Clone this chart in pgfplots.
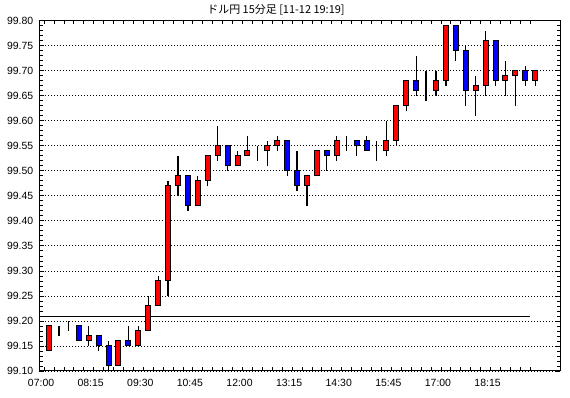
\documentclass[border=0pt]{standalone}
\usepackage{fontspec}
\setmainfont{Liberation Sans}
\newfontfamily\jp{Noto Sans CJK JP}
\usepackage{pgfplots}
\usepackage{pgfplotstable}
\pgfplotsset{compat=1.18}
\pgfplotstableread{
i o h l c
0 99.14 99.19 99.14 99.19
1 99.19 99.19 99.17 99.19
2 99.19 99.20 99.18 99.19
3 99.19 99.19 99.16 99.16
4 99.16 99.19 99.15 99.17
5 99.17 99.17 99.14 99.15
6 99.15 99.16 99.10 99.11
7 99.11 99.16 99.11 99.16
8 99.16 99.19 99.15 99.15
9 99.15 99.19 99.15 99.18
10 99.18 99.25 99.18 99.23
11 99.23 99.29 99.23 99.28
12 99.28 99.48 99.25 99.47
13 99.47 99.53 99.45 99.49
14 99.49 99.49 99.42 99.43
15 99.43 99.49 99.43 99.48
16 99.48 99.53 99.47 99.53
17 99.53 99.59 99.52 99.55
18 99.55 99.55 99.50 99.51
19 99.51 99.54 99.51 99.53
20 99.53 99.57 99.53 99.54
21 99.54 99.55 99.52 99.54
22 99.54 99.56 99.51 99.55
23 99.55 99.57 99.54 99.56
24 99.56 99.56 99.49 99.50
25 99.50 99.54 99.46 99.47
26 99.47 99.49 99.43 99.49
27 99.49 99.54 99.49 99.54
28 99.54 99.54 99.50 99.53
29 99.53 99.57 99.52 99.56
30 99.56 99.57 99.54 99.56
31 99.56 99.56 99.53 99.55
32 99.56 99.57 99.54 99.54
33 99.54 99.56 99.52 99.54
34 99.54 99.60 99.53 99.56
35 99.56 99.63 99.55 99.63
36 99.63 99.68 99.62 99.68
37 99.68 99.73 99.65 99.66
38 99.66 99.70 99.64 99.66
39 99.66 99.70 99.65 99.68
40 99.68 99.79 99.67 99.79
41 99.79 99.79 99.72 99.74
42 99.74 99.75 99.63 99.66
43 99.66 99.69 99.61 99.67
44 99.67 99.78 99.65 99.76
45 99.76 99.76 99.67 99.68
46 99.68 99.72 99.65 99.69
47 99.69 99.70 99.63 99.70
48 99.70 99.71 99.67 99.68
49 99.68 99.70 99.67 99.70
}\candles
\begin{document}
\begin{tikzpicture}
\useasboundingbox (0bp,0bp) rectangle (570bp,398bp);
\fill[white] (0bp,0bp) rectangle (570bp,398bp);
\node[font=\jp\fontsize{11}{13}\selectfont, inner sep=0pt] at (276bp,388bp) {ドル円 15分足 [11-12 19:19]};
\begin{axis}[
  at={(39.3bp,27bp)}, anchor=south west,
  scale only axis, width=520.7bp, height=350.3bp,
  xmin=-0.98, xmax=51.5, ymin=99.10, ymax=99.80,
  axis line style={black, line width=1bp},
  xtick={-0.8,4.2,9.2,14.2,19.2,24.2,29.2,34.2,39.2,44.2},
  xticklabels={07:00,08:15,09:30,10:45,12:00,13:15,14:30,15:45,17:00,18:15},
  minor xtick={-0.5,0.5,...,48.5},
  major x tick style={draw=none},
  ytick={99.10,99.15,99.20,99.25,99.30,99.35,99.40,99.45,99.50,99.55,99.60,99.65,99.70,99.75,99.80},
  minor y tick num=4,
  tick align=inside,
  xtick pos=both, xticklabel pos=lower,
  ytick pos=both, yticklabel pos=left,
  major tick length=4.5bp, minor tick length=3.5bp,
  tick style={black, line width=0.8bp},
  ymajorgrids,
  major grid style={black, line width=0.8bp, dash pattern=on 1bp off 2bp},
  tick label style={font=\fontsize{10.5}{12}\selectfont},
  /pgf/number format/assume math mode=true,
  yticklabel style={/pgf/number format/.cd, fixed, fixed zerofill, precision=2, /tikz/.cd, xshift=-2.5bp},
  xticklabel style={yshift=-4.5bp},
]
\addplot [black, line width=1bp, forget plot] coordinates {(-0.98,99.208) (48.5,99.208)};
\addplot [draw=none, no markers, forget plot,
  error bars/.cd, y dir=plus, y explicit, error mark=none,
  error bar style={draw=black, solid, line width=1.2bp}]
  table [x=i, y=l, y error expr=\thisrow{h}-\thisrow{l}] {\candles};
\end{axis}
\begin{axis}[
  at={(39.3bp,27bp)}, anchor=south west,
  scale only axis, width=520.7bp, height=350.3bp,
  xmin=-0.98, xmax=51.5, ymin=0.10, ymax=0.80,
  hide axis, ybar stacked, bar width=5bp,
]
\addplot [draw=none, fill=none] table [x=i, y expr={min(\thisrow{o},\thisrow{c})-99}] {\candles};
\addplot [draw=black, line width=1bp, fill=red] table [x=i, y expr={max(\thisrow{c}-\thisrow{o},0)}] {\candles};
\addplot [draw=black, line width=1bp, fill=blue] table [x=i, y expr={max(\thisrow{o}-\thisrow{c},0)}] {\candles};
\end{axis}
\end{tikzpicture}
\end{document}
